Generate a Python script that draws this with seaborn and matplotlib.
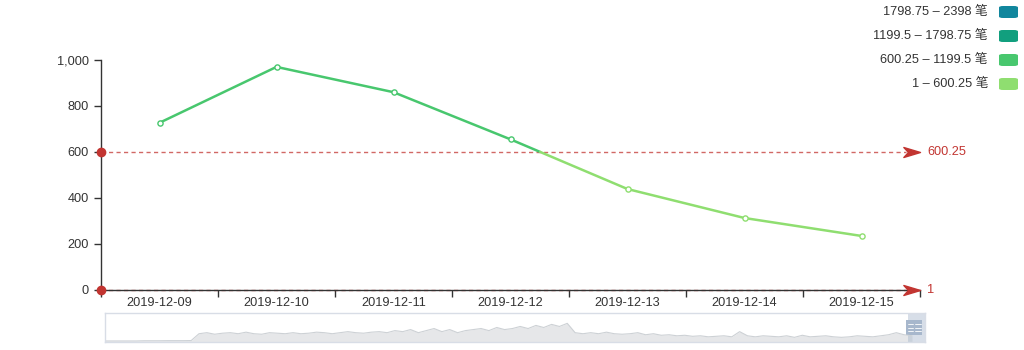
import numpy as np
import pandas as pd
import seaborn as sns
import matplotlib
matplotlib.use("Agg")
import matplotlib.pyplot as plt
from matplotlib.path import Path
from matplotlib.patches import FancyBboxPatch, Rectangle

# ---------------- data ----------------
dates = ["2019-12-09", "2019-12-10", "2019-12-11", "2019-12-12",
         "2019-12-13", "2019-12-14", "2019-12-15"]
values = [727, 970, 860, 655, 439, 313, 235]

piece_labels = ["1798.75 – 2398 笔", "1199.5 – 1798.75 笔",
                "600.25 – 1199.5 笔", "1 – 600.25 笔"]
piece_lows = [1798.75, 1199.5, 600.25, 1]
piece_colors = ["#11869d", "#119f7e", "#48c76e", "#8fde70"]

markline_values = [600.25, 1]
markline_labels = ["600.25", "1"]

y_ticks = [0, 200, 400, 600, 800, 1000]
y_tick_labels = ["0", "200", "400", "600", "800", "1,000"]

# slider preview (overview of the full series)
preview = [1, 1, 1, 1, 1, 1.2, 1.2, 1.2, 1.3, 1.3, 1.3, 1.4,
           8, 9, 7.5, 8.5, 9, 8, 9.5, 8, 7.5, 9, 8.5, 8,
           9, 8, 8.5, 9.5, 9, 8, 9, 10, 9, 8.5, 9.5, 10, 9, 11,
           10, 12, 9, 11, 13, 10, 12, 9, 11, 12, 13, 11, 14, 12,
           13, 15, 13, 16, 14, 17, 15, 18,
           9, 8, 9, 8, 9.5, 8, 7.5, 8, 9, 7, 8,
           6.5, 7, 6, 6.5, 5.5, 6, 5, 5.5, 6, 5, 10, 6,
           5, 6, 5.5, 5, 6, 4.5, 6.5, 5, 5.5, 6, 5, 4.5, 5, 6, 5.5, 5, 6, 7, 9, 7, 6]

# ---------------- style ----------------
sns.set_style("white")
plt.rcParams["font.family"] = ["Liberation Sans", "Noto Sans CJK SC", "DejaVu Sans"]
TXT = "#333333"
RED = "#c23531"
FS = 9.2

W, H = 1024, 350
fig = plt.figure(figsize=(W / 100, H / 100), dpi=100)

def fx(px):
    return px / W

def fy(py):
    return 1 - py / H

# main axes: x 101..920, y 60..290
ax = fig.add_axes([fx(101), fy(290), fx(920 - 101), (290 - 60) / H])
ax.set_xlim(-0.5, len(dates) - 0.5)
ax.set_ylim(0, 1000)


def color_for(v):
    for lo, c in zip(piece_lows, piece_colors):
        if v >= lo:
            return c
    return piece_colors[-1]

# build line segments split at the piece thresholds
rows = []
seg = 0
xs = list(range(len(values)))
for i in range(len(values) - 1):
    x0, x1, v0, v1 = xs[i], xs[i + 1], values[i], values[i + 1]
    pts = [(x0, v0)]
    for t in piece_lows:
        if (v0 - t) * (v1 - t) < 0:
            xc = x0 + (t - v0) / (v1 - v0) * (x1 - x0)
            pts.append((xc, t))
    pts.append((x1, v1))
    for a, b in zip(pts[:-1], pts[1:]):
        mid = (a[1] + b[1]) / 2
        c = color_for(mid)
        rows.append(dict(x=a[0], y=a[1], seg=seg, color=c))
        rows.append(dict(x=b[0], y=b[1], seg=seg, color=c))
        seg += 1
df = pd.DataFrame(rows)
for s, g in df.groupby("seg"):
    sns.lineplot(data=g, x="x", y="y", ax=ax, color=g["color"].iloc[0],
                 lw=1.8, sort=False, estimator=None, legend=False, zorder=3)

pts_df = pd.DataFrame({"x": xs, "y": values,
                       "c": [color_for(v) for v in values]})
for _, r in pts_df.iterrows():
    ax.scatter([r.x], [r.y], s=14, facecolor="white", edgecolor=r.c,
               linewidth=1.0, zorder=4)

# mark lines
arrow = Path([(0, 0), (-1, 0.3), (-0.72, 0), (-1, -0.3), (0, 0)],
             [Path.MOVETO, Path.LINETO, Path.LINETO, Path.LINETO, Path.CLOSEPOLY])
xr = len(dates) - 0.5
for v, lab in zip(markline_values, markline_labels):
    ax.plot([-0.5, xr - 0.12], [v, v], color=RED, lw=1, ls=(0, (3, 2.4)),
            zorder=2, clip_on=False, alpha=0.75)
    ax.plot([-0.5], [v], marker="o", ms=6, color=RED, clip_on=False, zorder=6)
    ax.plot([xr], [v], marker=arrow, ms=24, color=RED, mec=RED, clip_on=False,
            zorder=6)
    ax.annotate(lab, (xr, v), xytext=(5, 0), textcoords="offset points",
                ha="left", va="center", color=RED, fontsize=FS,
                annotation_clip=False)

# axes styling
for s in ["top", "right"]:
    ax.spines[s].set_visible(False)
ax.spines["left"].set_color(TXT)
ax.spines["bottom"].set_color(TXT)
ax.spines["left"].set_linewidth(1)
ax.spines["bottom"].set_linewidth(1)
ax.set_yticks(y_ticks)
ax.set_yticklabels(y_tick_labels, color=TXT, fontsize=FS)
ax.tick_params(axis="y", length=5, width=1, color=TXT, pad=4, left=True)
ax.set_xticks(np.arange(-0.5, len(dates), 1.0))
ax.set_xticklabels([""] * len(np.arange(-0.5, len(dates), 1.0)))
ax.tick_params(axis="x", which="major", length=5, width=1, color=TXT, bottom=True)
ax.set_xticks(range(len(dates)), minor=True)
ax.set_xticklabels(dates, minor=True, color=TXT, fontsize=FS)
ax.tick_params(axis="x", which="minor", length=0, pad=5)
ax.set_xlabel("")
ax.set_ylabel("")
ax.grid(False)

# legend (visual map pieces)
for i, (lab, c) in enumerate(zip(piece_labels, piece_colors)):
    cy = 12 + 24 * i
    fig.text(fx(988), fy(cy), lab, ha="right", va="center", fontsize=FS, color=TXT)
    fig.patches.append(FancyBboxPatch((fx(999), fy(cy + 6)), fx(19), 12 / H,
                                      boxstyle="round,pad=0,rounding_size=0.004",
                                      transform=fig.transFigure, facecolor=c,
                                      edgecolor="none"))

# data zoom slider
sax = fig.add_axes([fx(105), fy(342), fx(925 - 105), (342 - 313) / H])
n = len(preview)
span = (912 - 105) / (925 - 105)
sax.set_xlim(0, (n - 1) / span)
sax.set_ylim(0, 28)
pv = pd.DataFrame({"i": np.arange(n), "v": preview})
sax.fill_between(pv["i"], 0, pv["v"], color="#e6e7e9", lw=0)
sns.lineplot(data=pv, x="i", y="v", ax=sax, color="#cdd1d5", lw=0.8,
             estimator=None, legend=False)
for s in sax.spines.values():
    s.set_color("#d8dde6")
    s.set_linewidth(1)
sax.set_xticks([])
sax.set_yticks([])
sax.set_xlabel("")
sax.set_ylabel("")
x_end = (n - 1) / span
x_hl = (908 - 105) / (925 - 105) * x_end
sax.add_patch(Rectangle((x_hl, 0), x_end - x_hl, 28, facecolor="#a7b7cc",
                        alpha=0.45, edgecolor="none"))
for hx in [x_hl + 0.3, x_end - 0.9]:
    sax.add_patch(Rectangle((hx - 0.55, 7), 1.1, 14, facecolor="#a7b7cc",
                            edgecolor="none", clip_on=False))
    for yy in [11, 14, 17]:
        sax.plot([hx - 0.35, hx + 0.35], [yy, yy], color="white", lw=0.6,
                 clip_on=False)

fig.savefig("out.png", dpi=100)
